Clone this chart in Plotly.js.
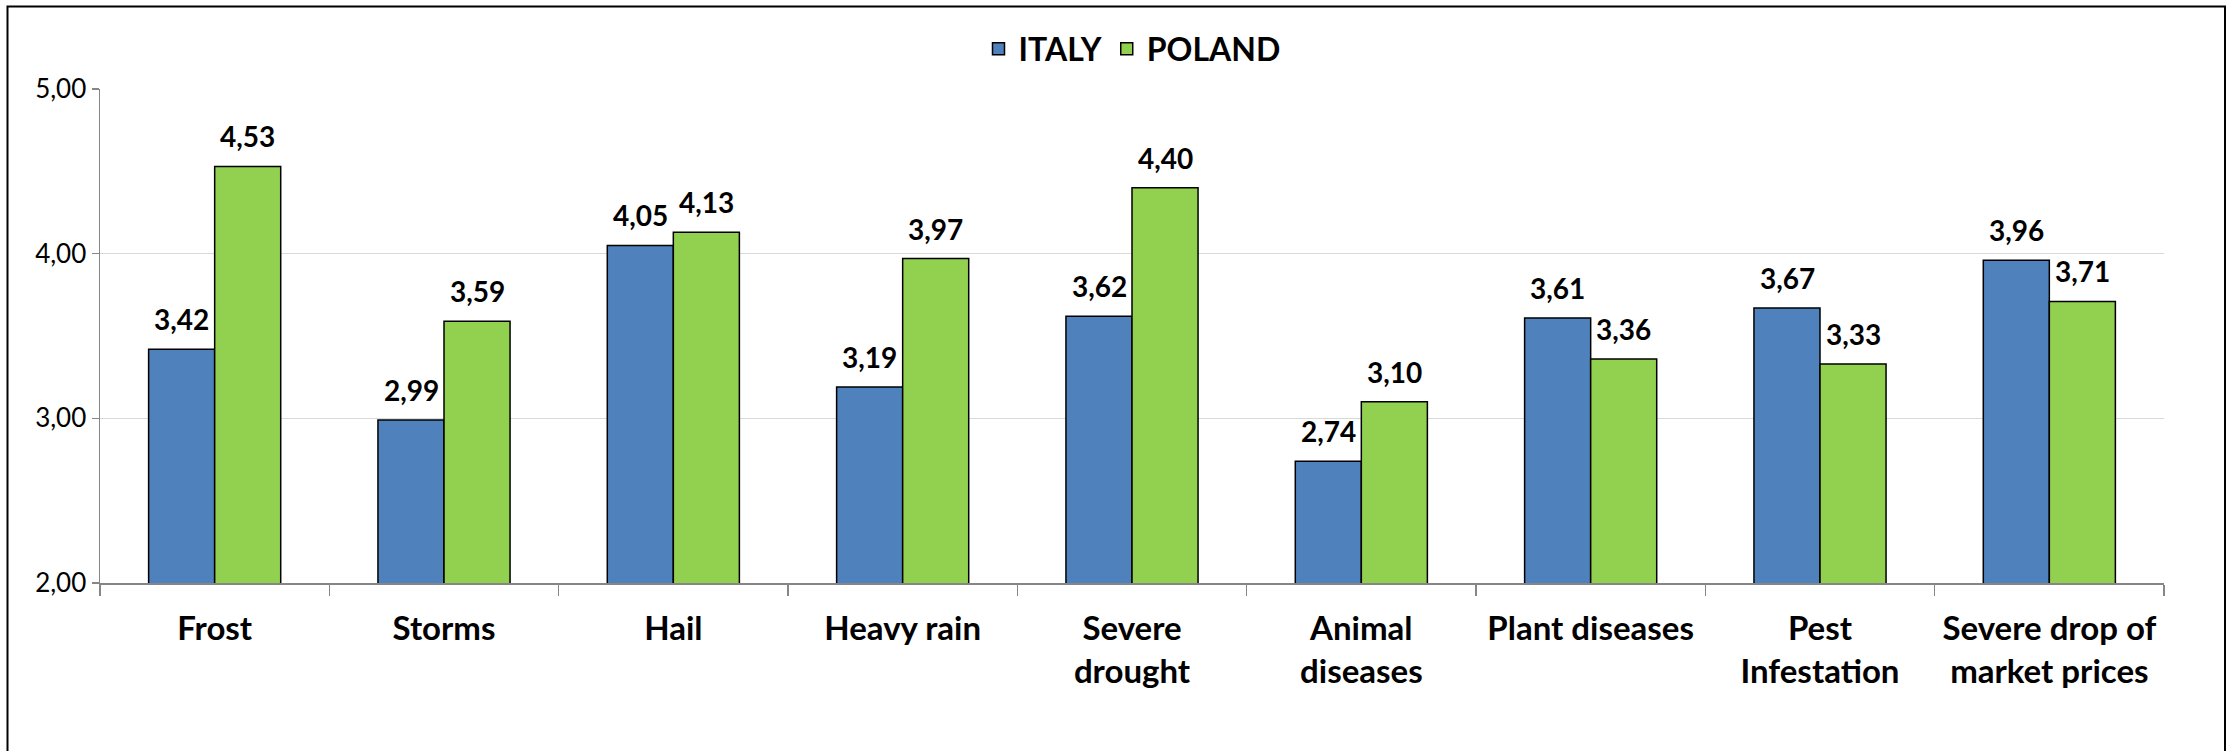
<!DOCTYPE html>
<html>
<head>
<meta charset="utf-8">
<script src="https://cdn.plot.ly/plotly-3.0.1.min.js"></script>
<style>
  html, body { margin: 0; padding: 0; background: #ffffff; }
  #chart { width: 2236px; height: 751px; }
</style>
</head>
<body>
<div id="chart"></div>
<script>
const categories = [
  "Frost", "Storms", "Hail", "Heavy rain", "Severe<br>drought",
  "Animal<br>diseases", "Plant diseases", "Pest<br>Infestation",
  "Severe drop of<br>market prices"
];
const italyValues  = [3.42, 2.99, 4.05, 3.19, 3.62, 2.74, 3.61, 3.67, 3.96];
const polandValues = [4.53, 3.59, 4.13, 3.97, 4.40, 3.10, 3.36, 3.33, 3.71];
const seriesNames = ["ITALY", "POLAND"];
const yTickValues = [2, 3, 4, 5];

const FONT = "Lato, 'Open Sans', sans-serif";
const fmt = v => v.toFixed(2).replace('.', ',');

const traces = [
  {
    type: 'bar', name: seriesNames[0], x: categories, y: italyValues,
    marker: { color: '#4F81BD', line: { color: '#000000', width: 1.5 } },
    hoverinfo: 'none'
  },
  {
    type: 'bar', name: seriesNames[1], x: categories, y: polandValues,
    marker: { color: '#92D050', line: { color: '#000000', width: 1.5 } },
    hoverinfo: 'none'
  }
];

const annotations = [];
[italyValues, polandValues].forEach((vals, s) => {
  vals.forEach((v, i) => {
    annotations.push({
      x: categories[i], y: v, xref: 'x', yref: 'y',
      text: fmt(v), showarrow: false,
      xshift: s === 0 ? -33 : 33, yshift: 30,
      xanchor: 'center', yanchor: 'middle',
      font: { family: FONT, size: 28, color: '#000000', weight: 'bold' }
    });
  });
});

const layout = {
  width: 2236, height: 751, autosize: false,
  margin: { l: 100, r: 72, t: 89, b: 168 },
  paper_bgcolor: '#ffffff', plot_bgcolor: '#ffffff',
  separators: ', ',
  barmode: 'group', bargap: 0.424, bargroupgap: 0,
  showlegend: true,
  legend: {
    orientation: 'h', x: 0.5, xanchor: 'center', y: 1.081, yanchor: 'middle',
    font: { family: FONT, size: 32, color: '#000000', weight: 'bold' },
    itemwidth: 30
  },
  xaxis: {
    type: 'category',
    showline: true, linecolor: '#868686', linewidth: 1.5,
    ticks: 'outside', tickson: 'boundaries', ticklen: 11, tickcolor: '#868686', tickwidth: 1.5,
    ticklabelstandoff: 16, tickangle: 0,
    showgrid: false,
    tickfont: { family: FONT, size: 33, color: '#000000', weight: 'bold' },
    fixedrange: true
  },
  yaxis: {
    range: [2, 5], tickvals: yTickValues, tickformat: '.2f',
    showline: true, linecolor: '#868686', linewidth: 1.5,
    ticks: 'outside', ticklen: 7, tickcolor: '#868686', tickwidth: 1.5,
    showgrid: true, gridcolor: '#d9d9d9', gridwidth: 1.5,
    zeroline: false,
    tickfont: { family: FONT, size: 26, color: '#000000' },
    fixedrange: true
  },
  annotations: annotations,
  shapes: [{
    type: 'rect', xref: 'paper', yref: 'paper',
    x0: (7.5 - 100) / 2064, x1: (2225 - 100) / 2064,
    y0: (583 - 770) / 494, y1: (583 - 6.5) / 494,
    line: { color: '#000000', width: 2 }, fillcolor: 'rgba(0,0,0,0)', layer: 'below'
  }]
};

Plotly.newPlot('chart', traces, layout, { displayModeBar: false, staticPlot: true });
</script>
</body>
</html>
